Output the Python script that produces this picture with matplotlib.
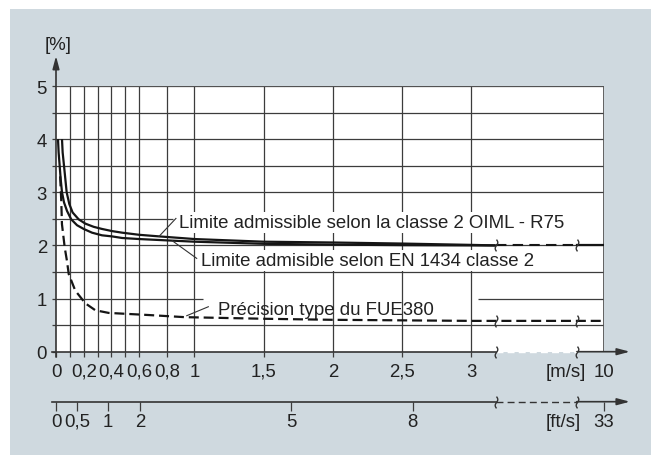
import numpy as np
import matplotlib
matplotlib.use('Agg')
import matplotlib.pyplot as plt
from matplotlib.patches import Rectangle
from matplotlib.path import Path

plt.rcParams['font.family'] = ['Liberation Sans', 'DejaVu Sans']

# ---------------- data ----------------
# velocity [m/s] / max permissible error [%]
en_v = [0.0144, 0.019, 0.0265, 0.0337, 0.0433, 0.0578, 0.0794, 0.11, 0.152, 0.2,
        0.26, 0.332, 0.404, 0.477, 0.6, 0.84, 1.0, 1.5, 2.0, 2.5, 3.0]
en_e = [4.0, 3.75, 3.5, 3.25, 3.0, 2.81, 2.65, 2.49, 2.38, 2.31,
        2.24, 2.19, 2.17, 2.14, 2.12, 2.09, 2.07, 2.03, 2.015, 2.005, 2.0]
oiml_v = [0.0433, 0.048, 0.0578, 0.0674, 0.077, 0.096, 0.12, 0.164, 0.212, 0.272,
          0.332, 0.404, 0.477, 0.6, 0.744, 1.0, 1.5, 2.0, 2.5, 3.0]
oiml_e = [4.0, 3.75, 3.5, 3.25, 3.0, 2.78, 2.62, 2.49, 2.41, 2.35,
          2.31, 2.27, 2.24, 2.2, 2.17, 2.12, 2.07, 2.055, 2.035, 2.01]
fue_v = [0.03, 0.038, 0.043, 0.063, 0.079, 0.092, 0.139, 0.212, 0.284, 0.38,
         0.525, 0.67, 0.93, 1.5, 2.0, 3.0]
fue_e = [3.3, 2.84, 2.40, 1.96, 1.71, 1.46, 1.15, 0.91, 0.78, 0.73,
         0.71, 0.69, 0.65, 0.62, 0.60, 0.58]
# values at 10 m/s (right of the axis break)
en_e_10 = 2.0
oiml_e_10 = 2.0
fue_e_10 = 0.58

ms_ticks = [0, 0.1, 0.2, 0.3, 0.4, 0.5, 0.6, 0.8, 1, 1.5, 2, 2.5, 3]
ms_labels = ['0', '', '0,2', '', '0,4', '', '0,6', '0,8', '1', '1,5', '2', '2,5', '3']
ms_end_label = '10'
ms_unit = '[m/s]'
fts_labels = ['0', '0,5', '1', '2', '5', '8', '33']
fts_unit = '[ft/s]'
y_ticks = [0, 0.5, 1, 1.5, 2, 2.5, 3, 3.5, 4, 4.5, 5]
y_labels = ['0', '', '1', '', '2', '', '3', '', '4', '', '5']
y_unit = '[%]'
label_oiml = 'Limite admissible selon la classe 2 OIML - R75'
label_en = 'Limite admisible selon EN 1434 classe 2'
label_fue = 'Précision type du FUE380'

# ---------------- layout ----------------
W, H = 651, 456
X_END = 3.955          # axis position standing for 10 m/s (after the break)
BRK0, BRK1 = 3.175, 3.76
X_TIP = 4.144
X_START = -0.031
Y_TIP = 5.565
fts_pos = [0, 0.154, 0.373, 0.609, 1.697, 2.575, X_END]
FS = 13.4
DARK = '#222222'
GRID = '#3c3c3c'
BG = '#cfd9df'

fig = plt.figure(figsize=(W / 100, H / 100), dpi=100)
fig.patches.append(Rectangle((10 / W, 0), 641 / W, 446 / H, transform=fig.transFigure,
                             facecolor=BG, edgecolor='none', zorder=-5))

ax = fig.add_axes([56 / W, 1 - 352.7 / H, (603.7 - 56) / W, (352.7 - 87) / H])
ax.set_xlim(0, X_END)
ax.set_ylim(0, 5)
ax.set_facecolor('white')
for s in ax.spines.values():
    s.set_visible(False)

# gridlines
ax.vlines(ms_ticks[1:], 0, 5, color=GRID, lw=0.9, zorder=1)
for yv in y_ticks[1:]:
    if yv == 1:
        ax.hlines(yv, 0, 1.06, color=GRID, lw=0.9, zorder=1)
        ax.hlines(yv, 3.05, X_END, color=GRID, lw=0.9, zorder=1)
    elif yv == 2.5:
        ax.hlines(yv, 0, 0.845, color=GRID, lw=0.9, zorder=1)
    else:
        ax.hlines(yv, 0, X_END, color=GRID, lw=0.9, zorder=1)
# frame (top / right)
ax.plot([0, X_END, X_END], [5, 5, 0], color='#555555', lw=1.3, zorder=2,
        solid_capstyle='projecting')

# ticks
ax.set_xticks(ms_ticks + [X_END, 3.68])
ax.set_xticklabels(ms_labels + [ms_end_label, ms_unit])
ax.tick_params(axis='x', direction='out', length=3.8, width=0.9, color=GRID,
               pad=4, labelsize=FS, labelcolor=DARK)
for t in ax.xaxis.get_major_ticks()[-2:]:
    t.tick1line.set_visible(False)
ax.set_yticks(y_ticks)
ax.set_yticklabels(y_labels)
ax.tick_params(axis='y', direction='out', length=3.1, width=0.9, color=GRID,
               pad=3.4, labelsize=FS, labelcolor=DARK)

# axes lines with arrows
arrow = dict(arrowstyle='-|>,head_length=0.75,head_width=0.2', lw=1.2, color='#333333',
             shrinkA=0, shrinkB=0, mutation_scale=10)
ax.annotate('', xy=(0, Y_TIP), xytext=(0, -0.1), arrowprops=arrow, annotation_clip=False)
ax.plot([X_START, BRK0], [0, 0], color='#333333', lw=1.2, clip_on=False, zorder=5)
ax.plot([BRK0, BRK1], [0, 0], color='white', lw=1.0, ls=(0, (5, 3)), clip_on=False, zorder=5)
ax.annotate('', xy=(X_TIP, 0), xytext=(BRK1, 0), arrowprops=arrow, annotation_clip=False)
ax.text(0.013, 5.775, y_unit, ha='center', va='center', fontsize=FS, color=DARK)

# curves
CURVE = '#151515'
ax.plot(en_v + [BRK0], en_e + [en_e_10], color=CURVE, lw=1.6, zorder=4,
        solid_joinstyle='round', solid_capstyle='butt')
ax.plot(oiml_v + [BRK0], oiml_e + [oiml_e_10], color=CURVE, lw=1.6, zorder=4,
        solid_joinstyle='round', solid_capstyle='butt')
ax.plot([BRK0, BRK1], [en_e_10, en_e_10], color=CURVE, lw=1.5, ls=(0, (5, 3)), zorder=4)
ax.plot([BRK1, X_END], [en_e_10, oiml_e_10], color=CURVE, lw=1.6, zorder=4)
ax.plot(fue_v + [X_END], fue_e + [fue_e_10], color=CURVE, lw=1.6, ls=(0, (4.5, 2.2)),
        zorder=4)

# break marks
tt = np.linspace(-1, 1, 25)
brk_path = Path(np.column_stack([0.22 * np.sin(np.pi * tt), tt]))
for yv in [en_e_10, fue_e_10, 0]:
    ax.plot([BRK0, BRK1], [yv, yv], ls='none', marker=brk_path, ms=8.5, mew=1.0,
            mfc='none', mec='#333333', clip_on=False, zorder=6)

# annotations
bb = dict(boxstyle='square,pad=0.12', fc='white', ec='none')
ax.text(0.888, 2.344, label_oiml, fontsize=FS, color=DARK, va='baseline', ha='left',
        bbox=bb, zorder=3)
ax.text(1.047, 1.63, label_en, fontsize=FS, color=DARK, va='baseline', ha='left',
        bbox=bb, zorder=3)
ax.text(1.167, 0.711, label_fue, fontsize=FS, color=DARK, va='baseline', ha='left', zorder=3)
ax.plot([0.744, 0.866], [2.17, 2.508], color='#333333', lw=0.8, zorder=5)
ax.plot([0.84, 1.016], [2.087, 1.756], color='#333333', lw=0.8, zorder=5)
ax.plot([0.944, 1.10], [0.677, 0.846], color='#333333', lw=0.8, zorder=5)

# second (ft/s) axis
ax2 = fig.add_axes([56 / W, 1 - 402.7 / H, (603.7 - 56) / W, 0.0001])
ax2.set_xlim(0, X_END)
ax2.set_ylim(0, 1)
ax2.patch.set_visible(False)
for s in ax2.spines.values():
    s.set_visible(False)
ax2.set_yticks([])
ax2.set_xticks(fts_pos + [3.663])
ax2.set_xticklabels(fts_labels + [fts_unit])
ax2.tick_params(axis='x', direction='out', length=6.5, width=0.9, color=GRID,
                pad=1.5, labelsize=FS, labelcolor=DARK)
ax2.xaxis.get_major_ticks()[-1].tick1line.set_visible(False)
ax2.plot([X_START, BRK0], [0, 0], color='#333333', lw=1.2, clip_on=False)
ax2.plot([BRK0, BRK1], [0, 0], color='#333333', lw=1.0, ls=(0, (5, 3)), clip_on=False)
ax2.annotate('', xy=(X_TIP, 0), xytext=(BRK1, 0), arrowprops=arrow, annotation_clip=False)
ax2.plot([BRK0, BRK1], [0, 0], ls='none', marker=brk_path, ms=8.5, mew=1.0,
         mfc='none', mec='#333333', clip_on=False, zorder=6)

fig.savefig('out.png', dpi=100)
